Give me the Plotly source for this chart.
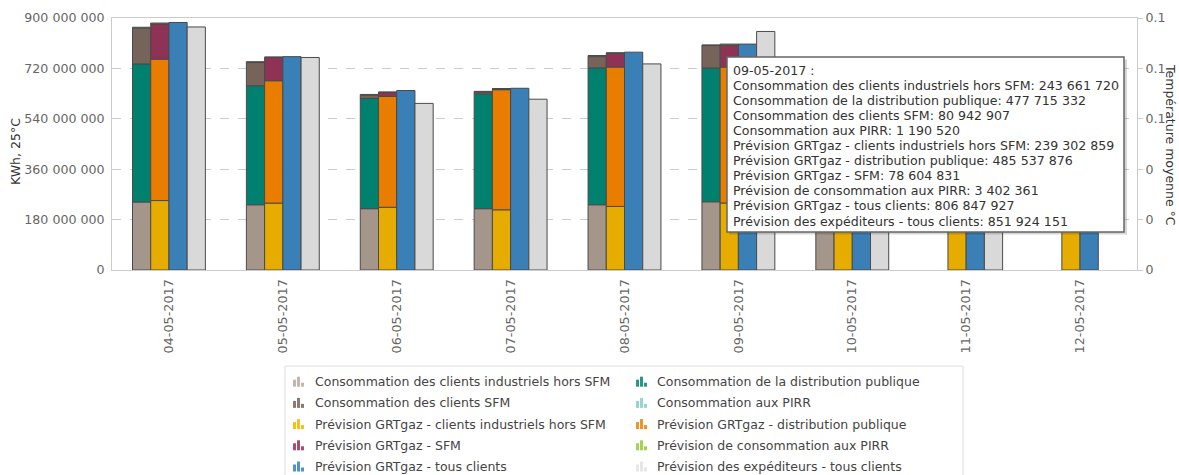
import numpy as np
import plotly.graph_objects as go

# ---------------- data ----------------
dates = ['04-05-2017', '05-05-2017', '06-05-2017', '07-05-2017', '08-05-2017',
         '09-05-2017', '10-05-2017', '11-05-2017', '12-05-2017']

conso_ind = [243e6, 233e6, 219e6, 219e6, 233e6, 243661720, 235e6, None, None]
conso_dist = [493e6, 425e6, 394e6, 410e6, 489e6, 477715332, 440e6, None, None]
conso_sfm = [128e6, 83e6, 11e6, 7e6, 40e6, 80942907, 60e6, None, None]
conso_pirr = [3e6, 3e6, 3e6, 2e6, 4e6, 1190520, 1e6, None, None]

prev_ind = [248e6, 239e6, 224e6, 215e6, 227e6, 239302859, 238e6, 240e6, 235e6]
prev_dist = [505e6, 437e6, 396e6, 429e6, 498e6, 485537876, 450e6, 445e6, 420e6]
prev_sfm = [126e6, 83e6, 14e6, 3e6, 49e6, 78604831, 40e6, 30e6, 20e6]
prev_pirr = [3e6, 2e6, 2e6, 1e6, 2e6, 3402361, 2e6, 2e6, 2e6]

prev_total = [884e6, 762e6, 641e6, 649e6, 778e6, 806847927, 730e6, 717e6, 677e6]
exp_total = [868e6, 759e6, 595e6, 610e6, 736e6, 851924151, 720e6, 700e6, None]

y_ticks = [0, 180e6, 360e6, 540e6, 720e6, 900e6]
temp_ticks = [0, 0.02, 0.04, 0.06, 0.08, 0.1]
temp_ticktext = ['0', '0', '0', '0.1', '0.1', '0.1']

names = [
    'Consommation des clients industriels hors SFM',
    'Consommation de la distribution publique',
    'Consommation des clients SFM',
    'Consommation aux PIRR',
    'Prévision GRTgaz - clients industriels hors SFM',
    'Prévision GRTgaz - distribution publique',
    'Prévision GRTgaz - SFM',
    'Prévision de consommation aux PIRR',
    'Prévision GRTgaz - tous clients',
    'Prévision des expéditeurs - tous clients',
]
colors = ['#a5968c', '#00806e', '#76645b', '#7fcac2',
          '#e6ad00', '#e87d00', '#8e3356', '#8dc63f',
          '#3a7fb6', '#d9d9d9']
legend_colors = ['#c4b6ae', '#2a9688', '#8a7a72', '#97d6ce',
                 '#f2c21c', '#f0922a', '#a84c70', '#a2d454',
                 '#4f93c8', '#e6e6e6']

# ---------------- geometry (pixels) ----------------
W, H = 1179, 475
L, R, T, B = 112, 1137, 18, 270   # plot area
FONT = 'DejaVu Sans'


def px(x):
    return (x - L) / (R - L)


def py(y):
    return (B - y) / (B - T)


def arr(v):
    return np.array([np.nan if a is None else a for a in v], dtype=float)


def fmt(v):
    return '{:,.0f}'.format(v).replace(',', ' ')


fig = go.Figure()

BW = 0.16
line = dict(color='#4a4a4a', width=1)


def stack(series, offset, idxs):
    base = np.zeros(len(dates))
    for s, i in zip(series, idxs):
        vals = arr(s)
        fig.add_trace(go.Bar(
            x=dates, y=vals, base=np.where(np.isnan(vals), np.nan, base),
            offset=offset, width=BW, name=names[i],
            marker=dict(color=colors[i], line=line), showlegend=False))
        base = base + np.nan_to_num(vals)


stack([conso_ind, conso_dist, conso_sfm, conso_pirr], -2 * BW, [0, 1, 2, 3])
stack([prev_ind, prev_dist, prev_sfm, prev_pirr], -BW, [4, 5, 6, 7])
fig.add_trace(go.Bar(x=dates, y=arr(prev_total), offset=0, width=BW, name=names[8],
                     marker=dict(color=colors[8], line=line), showlegend=False))
fig.add_trace(go.Bar(x=dates, y=arr(exp_total), offset=BW, width=BW, name=names[9],
                     marker=dict(color=colors[9], line=line), showlegend=False))
# temperature axis (no data shown)
fig.add_trace(go.Scatter(x=dates, y=[None] * len(dates), yaxis='y2',
                         showlegend=False, hoverinfo='skip'))

tick_font = dict(family=FONT, size=12.6, color='#666666')

fig.update_layout(
    width=W, height=H,
    margin=dict(l=L, r=W - R, t=T, b=H - B, autoexpand=False),
    paper_bgcolor='white', plot_bgcolor='white',
    barmode='overlay', hovermode=False, showlegend=False,
    font=dict(family=FONT, color='#333333'),
    xaxis=dict(type='category', range=[-0.5, len(dates) - 0.5], automargin=False,
               showline=True, mirror=True, linecolor='#cccccc', linewidth=1,
               showgrid=False, tickangle=-90, ticks='outside', ticklen=3,
               tickcolor='rgba(0,0,0,0)',
               tickfont=dict(family=FONT, size=12.8, color='#666666')),
    yaxis=dict(range=[0, 900e6], tickvals=y_ticks, automargin=False,
               ticktext=[fmt(v) for v in y_ticks], tickfont=tick_font,
               showgrid=True, gridcolor='#cccccc', griddash='dash',
               showline=True, linecolor='#cccccc', zeroline=False,
               ticks='outside', ticklen=4, tickcolor='rgba(0,0,0,0)'),
    yaxis2=dict(range=[0, 0.1], overlaying='y', side='right', anchor='x',
                automargin=False,
                tickvals=temp_ticks, ticktext=temp_ticktext, tickfont=tick_font,
                showgrid=False, zeroline=False, showline=True, linecolor='#cccccc',
                ticks='outside', ticklen=5, tickcolor='#cccccc'),
)

# axis titles
fig.add_annotation(xref='paper', yref='paper', x=px(15), y=py(152),
                   xanchor='center', yanchor='middle',
                   text='KWh, 25°C', textangle=-90, showarrow=False,
                   font=dict(family=FONT, size=12.5, color='#333333'))
fig.add_annotation(xref='paper', yref='paper', x=px(1171), y=py(145),
                   xanchor='center', yanchor='middle',
                   text='Température moyenne °C', textangle=90, showarrow=False,
                   font=dict(family=FONT, size=12.5, color='#333333'))

# tooltip box
k = 5
tip_vals = [conso_ind[k], conso_dist[k], conso_sfm[k], conso_pirr[k],
            prev_ind[k], prev_dist[k], prev_sfm[k], prev_pirr[k],
            prev_total[k], exp_total[k]]
tip_lines = [dates[k] + ' :'] + [f'{n}: {fmt(v)}' for n, v in zip(names, tip_vals)]
fig.add_shape(type='rect', xref='paper', yref='paper',
              x0=px(729), x1=px(1127), y0=py(59.5), y1=py(234.5),
              line=dict(width=0), fillcolor='rgba(0,0,0,0.16)', layer='above')
fig.add_shape(type='rect', xref='paper', yref='paper',
              x0=px(727), x1=px(1124), y0=py(57), y1=py(232),
              line=dict(color='#666666', width=1.5), fillcolor='white', layer='above')
for j, t in enumerate(tip_lines):
    fig.add_annotation(xref='paper', yref='paper', x=px(731), y=py(70 + 15.1 * j),
                       xanchor='left', yanchor='middle', showarrow=False, text=t,
                       font=dict(family=FONT, size=12.6, color='#333333'))

# custom legend
fig.add_shape(type='rect', xref='paper', yref='paper',
              x0=px(285), x1=px(963), y0=py(366), y1=py(495),
              line=dict(color='#dddddd', width=1), fillcolor='rgba(0,0,0,0)')
icon_x = [293, 636]
text_x = [313, 655]
for i, n in enumerate(names):
    row, col = divmod(i, 2)
    yc = 381.7 + row * 21.2
    x0 = icon_x[col]
    for j, h in enumerate([7, 10, 4]):
        fig.add_shape(type='rect', xref='paper', yref='paper',
                      x0=px(x0 + j * 4), x1=px(x0 + j * 4 + 3),
                      y0=py(yc + 5), y1=py(yc + 5 - h),
                      line=dict(width=0), fillcolor=legend_colors[i])
    fig.add_annotation(xref='paper', yref='paper', x=px(text_x[col]), y=py(yc),
                       xanchor='left', yanchor='middle', showarrow=False, text=n,
                       font=dict(family=FONT, size=12.5, color='#444444'))

fig.write_html('out.html',
               config={'displayModeBar': False},
               post_script="document.body.style.margin='0';"
                           "document.body.style.overflow='hidden';")
